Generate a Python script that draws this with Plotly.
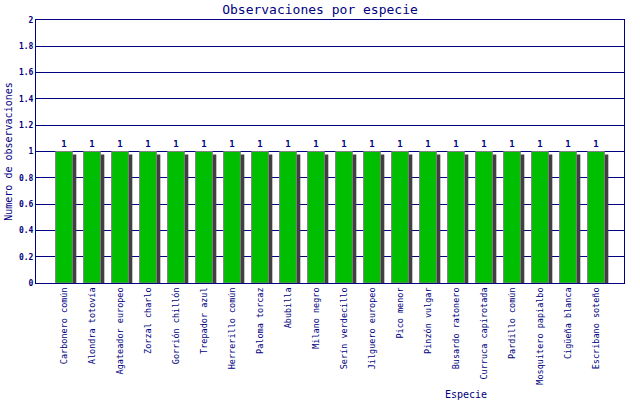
import plotly.graph_objects as go

# species observed and number of observations
especies = ['Carbonero común', 'Alondra totovía', 'Agateador europeo', 'Zorzal charlo',
            'Gorrión chillón', 'Trepador azul', 'Herrerillo común', 'Paloma torcaz',
            'Abubilla', 'Milano negro', 'Serín verdecillo', 'Jilguero europeo',
            'Pico menor', 'Pinzón vulgar', 'Busardo ratonero', 'Curruca capirotada',
            'Pardillo común', 'Mosquitero papialbo', 'Cigüeña blanca', 'Escribano soteño']
observaciones = [1, 1, 1, 1, 1, 1, 1, 1, 1, 1, 1, 1, 1, 1, 1, 1, 1, 1, 1, 1]
y_ticks = [0, 0.2, 0.4, 0.6, 0.8, 1, 1.2, 1.4, 1.6, 1.8, 2]

navy = '#000080'
mono = 'DejaVu Sans Mono, monospace'

posiciones = list(range(1, len(especies) + 1))
# drop shadow sits a few pixels lower than the bar
sombra = [v - 0.023 for v in observaciones]

fig = go.Figure()
# shadow bars
fig.add_trace(go.Bar(
    x=posiciones, y=sombra, width=0.6, offset=-0.16,
    marker=dict(color='#404040', line=dict(width=0)),
    hoverinfo='skip', showlegend=False,
))
# main bars
fig.add_trace(go.Bar(
    x=posiciones, y=observaciones, width=0.6, offset=-0.3,
    marker=dict(color='#00bf00', line=dict(color='#808080', width=1)),
    text=[str(v) for v in observaciones], textposition='outside',
    textfont=dict(family=mono, size=9, color=navy, weight='bold'),
    cliponaxis=False, showlegend=False,
))

fig.update_layout(
    width=640, height=400,
    barmode='overlay',
    paper_bgcolor='white', plot_bgcolor='white',
    margin=dict(l=36, r=16, t=20, b=117, autoexpand=False),
    font=dict(family=mono, color=navy, size=9),
    title=dict(text='Observaciones por especie', x=0.5, xanchor='center',
               y=1 - 9 / 400, yanchor='middle', automargin=False,
               font=dict(family=mono, size=13, color=navy)),
    xaxis=dict(range=[0, 21], tickvals=posiciones, ticktext=especies,
               tickangle=-90, showgrid=False, zeroline=False, automargin=False,
               showline=True, linecolor=navy, linewidth=1, mirror=True,
               ticks='', ticklen=0,
               tickfont=dict(family=mono, size=8.5, color=navy)),
    yaxis=dict(range=[0, 2], tickvals=y_ticks, showgrid=True, automargin=False,
               gridcolor=navy, gridwidth=1, zeroline=False,
               showline=True, linecolor=navy, linewidth=1, mirror=True,
               ticks='', ticklen=0,
               tickfont=dict(family=mono, size=8, color=navy, weight='bold'),
               title=dict(text='Numero de observaciones', standoff=4,
                          font=dict(family=mono, size=10, color=navy))),
    annotations=[dict(text='Especie', x=(466 - 36) / 588, y=-(394 - 283) / 263,
                      xref='paper', yref='paper', xanchor='center', yanchor='middle',
                      showarrow=False, font=dict(family=mono, size=10, color=navy))],
)

# remove the browser's default page margin so the figure sits at the top-left corner
fig.write_html('out.html', config={'displayModeBar': False},
               post_script="document.body.style.margin = '0';")
